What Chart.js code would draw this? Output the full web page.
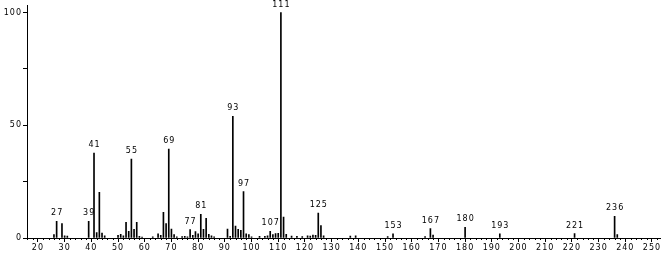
<!DOCTYPE html>
<html>
<head>
<meta charset="utf-8">
<script src="https://cdn.jsdelivr.net/npm/chart.js@4.4.1/dist/chart.umd.min.js"></script>
<style>
  html, body { margin: 0; padding: 0; background: #fff; }
  #spektrum { display: block; }
</style>
</head>
<body>
<canvas id="spektrum" width="666" height="254"></canvas>
<script>
// m/z werte und relative intensitaet
var massen = [26, 27, 29, 30, 31, 39, 41, 42, 43, 44, 45, 50, 51, 52, 53, 54, 55, 56, 57, 58, 59,
    63, 65, 66, 67, 68, 69, 70, 71, 72, 74, 75, 76, 77, 78, 79, 80, 81, 82, 83, 84, 85, 86,
    91, 92, 93, 94, 95, 96, 97, 98, 99, 100, 103, 105, 106, 107, 108, 109, 110, 111, 112, 113,
    115, 117, 119, 121, 122, 123, 124, 125, 126, 127, 137, 139, 151, 153, 165, 167, 168, 180,
    193, 221, 236, 237];
var intensitaet = [1.5, 7.4, 6.4, 1, 0.8, 7.4, 37.7, 2.4, 20.3, 2.2, 1, 1.2, 1.6, 1, 6.9, 3, 35, 3.8, 6.9, 0.7, 0.4,
    0.5, 1.9, 1.2, 11.4, 6.4, 39.4, 4, 1.5, 0.5, 0.6, 0.7, 0.5, 3.7, 1.2, 2.8, 1.8, 10.5, 3.8, 8.7, 1.6, 1, 0.5,
    4, 0.7, 54, 5.3, 3.8, 3.4, 20.6, 1.9, 1.5, 0.5, 0.7, 0.7, 1, 3, 1.5, 2, 2.1, 100, 9.3, 1.6,
    0.8, 0.7, 0.6, 1, 0.8, 1.3, 1.2, 11, 5.5, 1, 0.8, 1, 0.6, 1.8, 0.6, 4.2, 1.3, 4.7,
    1.8, 2, 9.6, 1.5];
// beschriftete peaks
var peak_labels = [27, 39, 41, 55, 69, 77, 81, 93, 97, 107, 111, 125, 153, 167, 180, 193, 221, 236];
// achsen
var x_ticks = [20, 30, 40, 50, 60, 70, 80, 90, 100, 110, 120, 130, 140, 150, 160, 170, 180, 190, 200, 210, 220, 230, 240, 250];
var y_ticks = [0, 25, 50, 75, 100];
var y_labels = [0, 50, 100];

var schrift = "DejaVu Sans";

var punkte = [];
for (var i = 0; i < massen.length; i++) {
    punkte.push({ x: massen[i], y: intensitaet[i] });
}

var peak_plugin = {
    id: "peaks",
    beforeDraw: function (chart) {
        chart.ctx.letterSpacing = "1px";
    },
    afterDatasetsDraw: function (chart) {
        var ctx = chart.ctx;
        var xs = chart.scales.x;
        var ys = chart.scales.y;
        ctx.save();
        ctx.fillStyle = "#000";
        ctx.font = "8px '" + schrift + "'";
        ctx.textAlign = "center";
        ctx.textBaseline = "bottom";
        for (var i = 0; i < peak_labels.length; i++) {
            var m = peak_labels[i];
            var idx = massen.indexOf(m);
            ctx.fillText(String(m), xs.getPixelForValue(m) + 0.5, ys.getPixelForValue(intensitaet[idx]) - 4);
        }
        // kleine striche alle 2 einheiten
        ctx.strokeStyle = "#000";
        ctx.lineWidth = 1;
        ctx.beginPath();
        for (var v = 16; v <= 252; v += 2) {
            if (v % 10 === 0) continue;
            var px = Math.round(xs.getPixelForValue(v)) + 0.5;
            ctx.moveTo(px, xs.top);
            ctx.lineTo(px, xs.top + 2);
        }
        ctx.stroke();
        ctx.restore();
    }
};

var ctx = document.getElementById("spektrum").getContext("2d");
var myChart = new Chart(ctx, {
    type: "bar",
    data: {
        datasets: [{
            data: punkte,
            backgroundColor: "#000",
            borderWidth: 0,
            barThickness: 1,
            grouped: false
        }]
    },
    options: {
        responsive: false,
        animation: false,
        layout: { padding: { top: 5, right: 6, left: 0, bottom: 0 } },
        plugins: { legend: { display: false }, tooltip: { enabled: false } },
        scales: {
            x: {
                type: "linear",
                offset: false,
                min: 15.9,
                max: 253,
                afterBuildTicks: function (axis) {
                    axis.ticks = x_ticks.map(function (v) { return { value: v }; });
                },
                afterFit: function (axis) { axis.height = 16; },
                border: { display: true, color: "#000", width: 1 },
                grid: { offset: false, drawOnChartArea: false, drawTicks: true, tickLength: 4, color: "#000" },
                ticks: {
                    autoSkip: false,
                    maxRotation: 0,
                    padding: 1,
                    color: "#000",
                    font: { family: schrift, size: 8 },
                    callback: function (v) { return String(v); }
                }
            },
            y: {
                min: 0,
                max: 103,
                afterBuildTicks: function (axis) {
                    axis.ticks = y_ticks.map(function (v) { return { value: v }; });
                },
                afterFit: function (axis) { axis.width = 27; },
                border: { display: true, color: "#000", width: 1 },
                grid: { drawOnChartArea: false, drawTicks: true, tickLength: 4, color: "#000" },
                ticks: {
                    padding: 1,
                    color: "#000",
                    font: { family: schrift, size: 8 },
                    callback: function (v) { return y_labels.indexOf(v) >= 0 ? String(v) : ""; }
                }
            }
        }
    },
    plugins: [peak_plugin]
});
</script>
</body>
</html>
